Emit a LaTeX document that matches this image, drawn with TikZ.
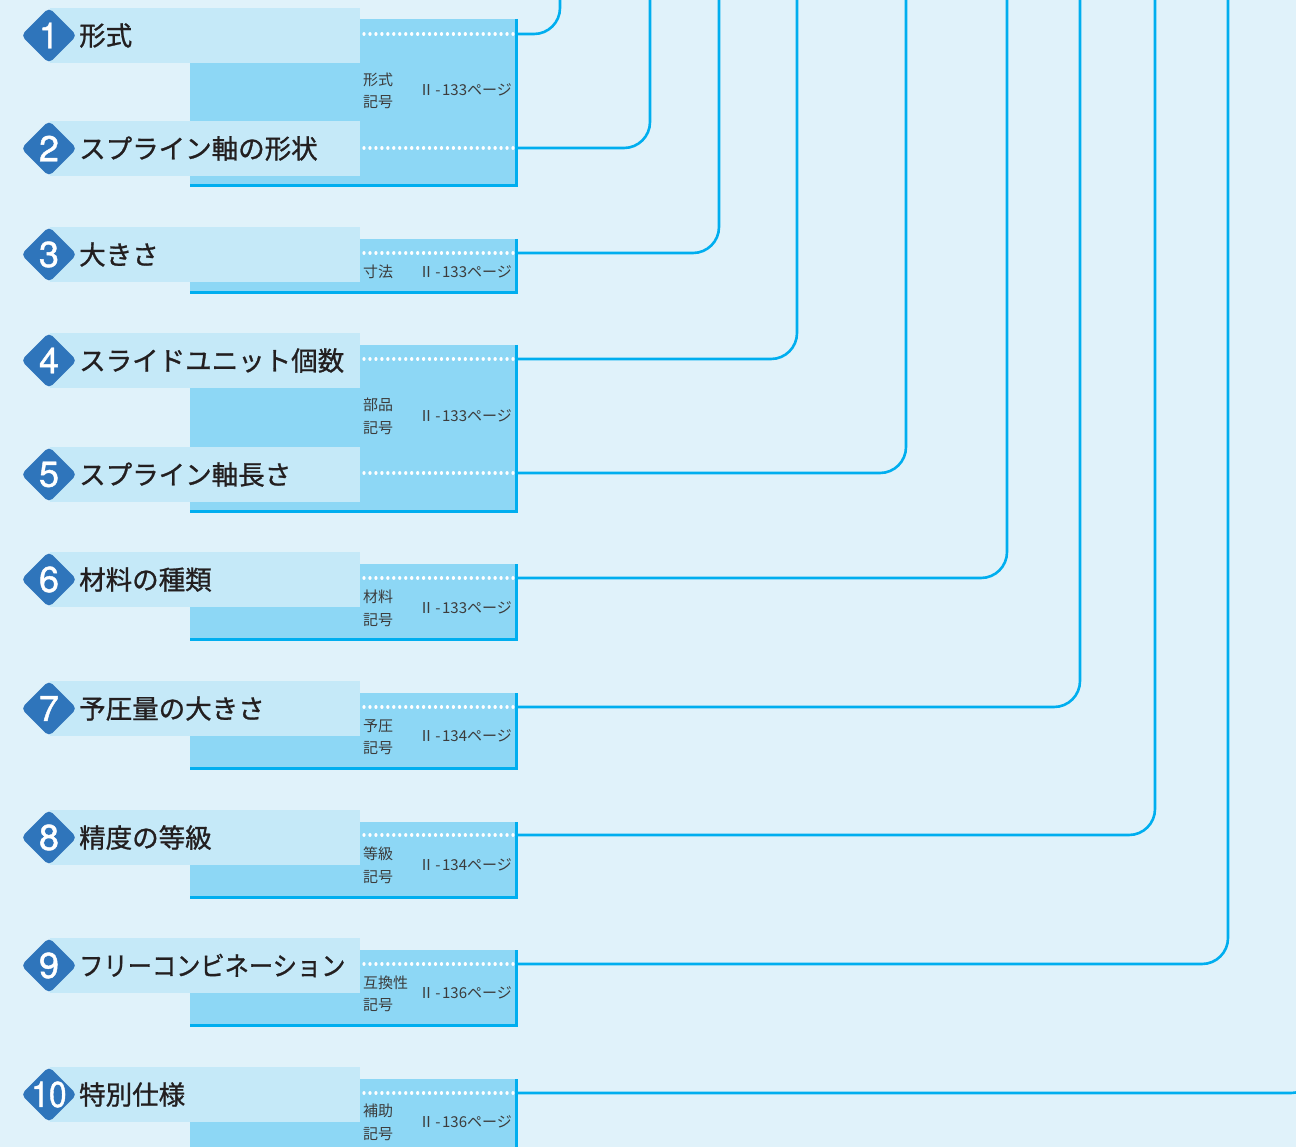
\documentclass[tikz,border=0pt]{standalone}
\usepackage{fontspec}
\setmainfont{Noto Sans CJK JP}
\newfontfamily\labfont[FakeBold=1.0]{Noto Sans CJK JP}
\newfontfamily\smallfont{Noto Sans CJK JP}
\newfontfamily\numfont[FakeBold=1.2]{TeX Gyre Heros}
\usetikzlibrary{shapes.geometric}
\definecolor{bgc}{RGB}{224,242,250}
\definecolor{bandc}{RGB}{197,233,248}
\definecolor{boxc}{RGB}{141,215,245}
\definecolor{linec}{RGB}{0,174,239}
\definecolor{diac}{RGB}{47,117,187}
\definecolor{txtc}{RGB}{35,31,32}
\definecolor{smc}{RGB}{60,60,60}
\newcommand{\pg}[1]{Ⅱ\hspace{1.5pt}-\hspace{1.5pt}#1ページ}
\tikzset{
  band/.style={fill=bandc, draw=none, inner sep=0, minimum width=310pt, minimum height=55pt, anchor=north west},
  infobox/.style={fill=boxc, draw=none, inner sep=0, minimum width=326pt, anchor=north west},
  badge/.style={shape=diamond, fill=diac, draw=none, inner sep=0, minimum width=56pt, minimum height=56pt, rounded corners=5pt},
  numtxt/.style={text=white, font=\numfont\fontsize{36}{36}\selectfont, inner sep=0},
  labtxt/.style={text=txtc, font=\labfont\fontsize{26.5}{28}\selectfont, inner sep=0, anchor=west},
  smtxt/.style={text=smc, font=\smallfont\fontsize{15}{16}\selectfont, inner sep=0},
  dotline/.style={white, line width=3.3pt, line cap=round, dash pattern=on 0.01pt off 5.95pt},
  border/.style={linec, line width=2.6pt},
  conn/.style={linec, line width=2.6pt, rounded corners=26pt},
}
\begin{document}
\begin{tikzpicture}[x=1pt,y=-1pt]
\useasboundingbox (0,0) rectangle (1296,1147);
\clip (0,0) rectangle (1296,1147);
\fill[bgc] (0,0) rectangle (1296,1147);
% info boxes: name/top/bottom
\foreach \b/\tp/\bt in {A/19/185, B/239/292, C/345/511, D/564/639, E/693/768, F/822/897, G/950/1025, H/1079/1170} {
  \node[infobox, minimum height=\bt-\tp] (box\b) at (190,\tp) {};
}
% bands, badges, labels
\foreach \n/\t/\lab in {1/8/形式, 2/121/スプライン軸の形状, 3/227/大きさ, 4/333/スライドユニット個数, 5/447/スプライン軸長さ, 6/552/材料の種類, 7/681/予圧量の大きさ, 8/810/精度の等級, 10/1067/特別仕様} {
  \node[band] (band\n) at (50,\t) {};
  \node[badge] (dia\n) at (49,\t+27.5) {};
  \node[labtxt] (lab\n) at (79,\t+27.5) {\lab};
}
\node[band] (band9) at (50,938) {};
\node[badge] (dia9) at (49,965.5) {};
\node[labtxt] (lab9) at (79,965.5) {\scalebox{0.915}[1]{フリーコンビネーション}};
\foreach \n/\t in {1/8, 2/121, 3/227, 4/333, 5/447, 6/552, 7/681, 8/810, 9/938} {
  \node[numtxt] (num\n) at (dia\n) {\n};
}
\node[numtxt] (num10) at (dia10) {\scalebox{0.88}[1]{10}};
% borders of boxes
\foreach \b in {A,B,C,D,E,F,G,H} {
  \draw[border] (box\b.north east) -- (box\b.south east) -- (box\b.south west);
}
% small texts
\node[smtxt, anchor=west] (kA1) at (363,80) {形式};
\node[smtxt, anchor=west] (kA2) at (363,102) {記号};
\node[smtxt, anchor=east] (pA) at (512,90) {\pg{133}};
\node[smtxt, anchor=west] (kB1) at (363,272) {寸法};
\node[smtxt, anchor=east] (pB) at (512,272) {\pg{133}};
\node[smtxt, anchor=west] (kC1) at (363,405) {部品};
\node[smtxt, anchor=west] (kC2) at (363,428) {記号};
\node[smtxt, anchor=east] (pC) at (512,416) {\pg{133}};
\node[smtxt, anchor=west] (kD1) at (363,597) {材料};
\node[smtxt, anchor=west] (kD2) at (363,620) {記号};
\node[smtxt, anchor=east] (pD) at (512,608) {\pg{133}};
\node[smtxt, anchor=west] (kE1) at (363,726) {予圧};
\node[smtxt, anchor=west] (kE2) at (363,748) {記号};
\node[smtxt, anchor=east] (pE) at (512,736) {\pg{134}};
\node[smtxt, anchor=west] (kF1) at (363,854) {等級};
\node[smtxt, anchor=west] (kF2) at (363,877) {記号};
\node[smtxt, anchor=east] (pF) at (512,865) {\pg{134}};
\node[smtxt, anchor=west] (kG1) at (363,983) {互換性};
\node[smtxt, anchor=west] (kG2) at (363,1005) {記号};
\node[smtxt, anchor=east] (pG) at (512,993) {\pg{136}};
\node[smtxt, anchor=west] (kH1) at (363,1111) {補助};
\node[smtxt, anchor=west] (kH2) at (363,1134) {記号};
\node[smtxt, anchor=east] (pH) at (512,1122) {\pg{136}};
% dotted leaders and connectors
\foreach \n/\y/\x in {1/34/560, 2/148/650, 3/253/719, 4/359/797, 5/473/906, 6/578/1007, 7/707/1080, 8/835/1155, 9/964/1228, 10/1093/1317} {
  \coordinate (ds\n) at (364,\y);
  \coordinate (de\n) at (515,\y);
  \coordinate (top\n) at (\x,-20);
  \draw[dotline] (ds\n) -- (de\n);
  \draw[conn] (de\n) -| (top\n);
}
\end{tikzpicture}
\end{document}
